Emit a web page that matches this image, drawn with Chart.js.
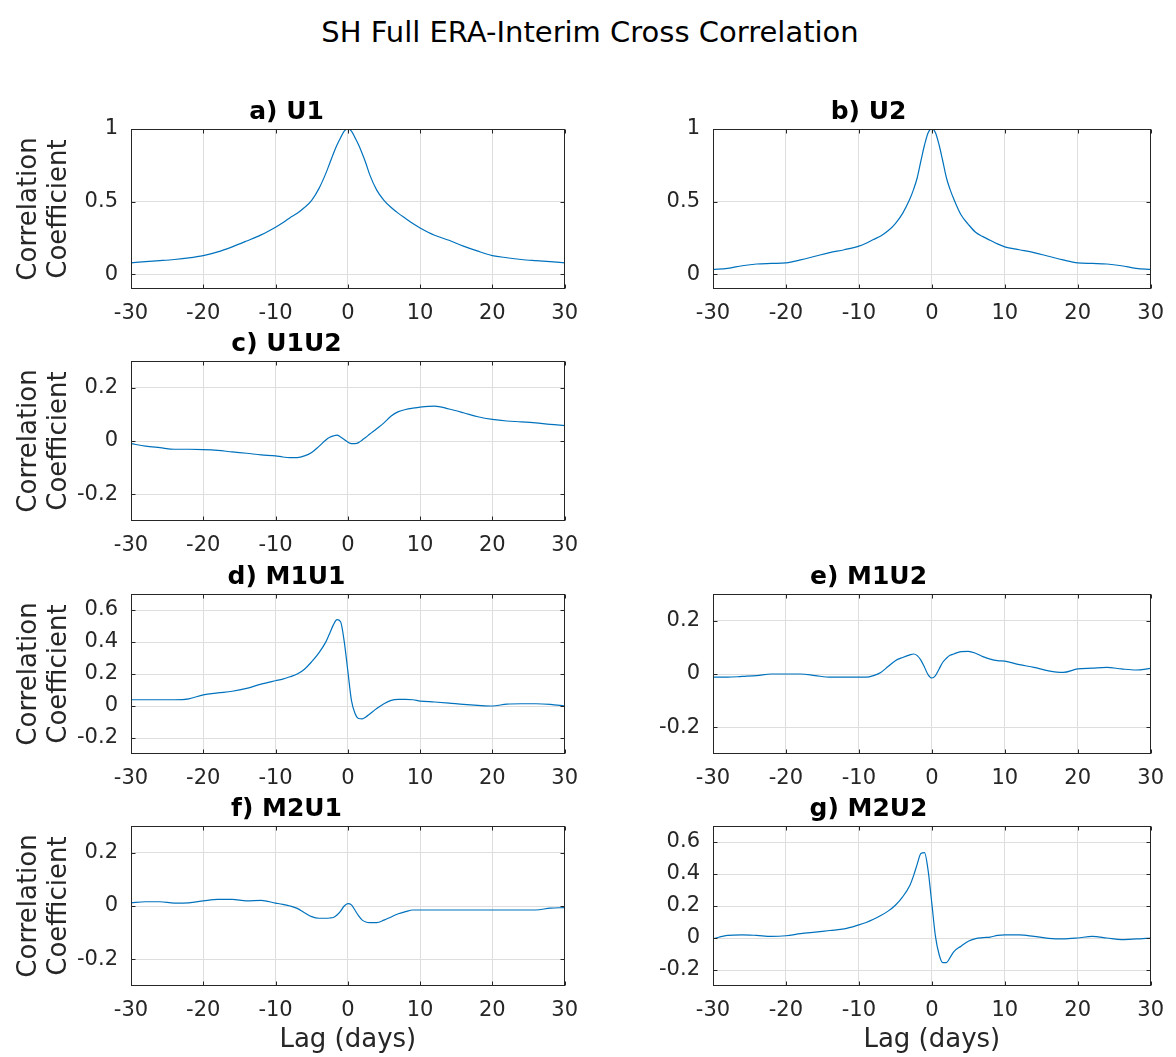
<!DOCTYPE html>
<html>
<head>
<meta charset="utf-8">
<title>SH Full ERA-Interim Cross Correlation</title>
<script src="https://cdn.jsdelivr.net/npm/chart.js@4.4.1/dist/chart.umd.min.js"></script>
<style>
  body { margin: 0; background: #fff; width: 1176px; height: 1057px; position: relative; overflow: hidden; font-family: "DejaVu Sans", sans-serif; }
  #title { position: absolute; left: 0; width: 1180px; top: 15px; text-align: center; font-size: 29px; color: #000; }
  canvas { position: absolute; }
</style>
</head>
<body>
<div id="title">SH Full ERA-Interim Cross Correlation</div>
<canvas id="pa"></canvas>
<canvas id="pb"></canvas>
<canvas id="pc"></canvas>
<canvas id="pd"></canvas>
<canvas id="pe"></canvas>
<canvas id="pf"></canvas>
<canvas id="pg"></canvas>
<script>
// lag in days (denser near zero where the curves change fast)
const lags = [-30, -28, -26, -24, -22, -20, -18, -16, -14, -12, -10, -9, -8, -7, -6, -5, -4, -3,
  -2.5, -2, -1.5, -1, -0.5, 0, 0.5, 1, 1.5, 2, 2.5, 3, 4, 5, 6, 7, 8, 9, 10,
  12, 14, 16, 18, 20, 22, 24, 26, 28, 30];

const u1 = [0.080, 0.088, 0.095, 0.103, 0.114, 0.130, 0.155, 0.190, 0.230, 0.272, 0.325, 0.355, 0.390, 0.420, 0.460, 0.510, 0.590, 0.700,
  0.765, 0.830, 0.890, 0.940, 0.985, 1.000, 0.985, 0.940, 0.890, 0.830, 0.765, 0.690, 0.580, 0.510, 0.460, 0.420, 0.385, 0.350, 0.320,
  0.270, 0.235, 0.195, 0.160, 0.130, 0.115, 0.103, 0.095, 0.088, 0.080];

const u2 = [0.035, 0.042, 0.060, 0.072, 0.076, 0.080, 0.100, 0.125, 0.150, 0.170, 0.195, 0.215, 0.240, 0.265, 0.300, 0.350, 0.420, 0.520,
  0.585, 0.665, 0.780, 0.890, 0.975, 1.000, 0.975, 0.890, 0.780, 0.665, 0.585, 0.520, 0.410, 0.345, 0.290, 0.260, 0.235, 0.210, 0.190,
  0.170, 0.150, 0.125, 0.100, 0.080, 0.076, 0.072, 0.060, 0.042, 0.035];

const u1u2 = [-0.010, -0.019, -0.025, -0.031, -0.031, -0.032, -0.035, -0.041, -0.046, -0.052, -0.056, -0.060, -0.062, -0.062, -0.056, -0.043, -0.020, 0.005,
  0.014, 0.019, 0.022, 0.015, 0.006, -0.004, -0.010, -0.010, -0.006, 0.004, 0.014, 0.025, 0.046, 0.068, 0.094, 0.110, 0.118, 0.123, 0.127,
  0.131, 0.120, 0.106, 0.091, 0.081, 0.075, 0.072, 0.068, 0.062, 0.058];

const m1u1 = [0.039, 0.039, 0.039, 0.039, 0.045, 0.070, 0.082, 0.092, 0.110, 0.137, 0.158, 0.168, 0.183, 0.200, 0.230, 0.277, 0.332, 0.404,
  0.455, 0.507, 0.540, 0.527, 0.404, 0.220, 0.035, -0.047, -0.078, -0.080, -0.068, -0.051, -0.016, 0.014, 0.035, 0.041, 0.041, 0.039, 0.031,
  0.025, 0.018, 0.010, 0.004, 0.000, 0.012, 0.014, 0.014, 0.010, 0.000];

const m1u2 = [-0.012, -0.012, -0.009, -0.006, 0.000, 0.000, 0.000, -0.006, -0.012, -0.012, -0.012, -0.012, -0.006, 0.006, 0.028, 0.050, 0.062, 0.072,
  0.075, 0.069, 0.052, 0.025, -0.003, -0.015, -0.006, 0.019, 0.044, 0.059, 0.070, 0.075, 0.084, 0.085, 0.078, 0.065, 0.056, 0.050, 0.048,
  0.035, 0.025, 0.012, 0.006, 0.019, 0.022, 0.025, 0.019, 0.015, 0.021];

const m2u1 = [0.012, 0.016, 0.016, 0.011, 0.012, 0.019, 0.025, 0.025, 0.019, 0.021, 0.011, 0.006, 0.000, -0.009, -0.025, -0.040, -0.046, -0.046,
  -0.045, -0.043, -0.034, -0.019, 0.000, 0.009, 0.004, -0.016, -0.037, -0.053, -0.060, -0.062, -0.062, -0.053, -0.041, -0.029, -0.021, -0.015, -0.015,
  -0.015, -0.015, -0.015, -0.015, -0.015, -0.015, -0.015, -0.015, -0.008, -0.006];

const m2u2 = [-0.004, 0.016, 0.020, 0.016, 0.010, 0.014, 0.027, 0.037, 0.047, 0.057, 0.082, 0.097, 0.117, 0.140, 0.168, 0.205, 0.257, 0.330,
  0.390, 0.462, 0.528, 0.534, 0.420, 0.216, 0.010, -0.103, -0.154, -0.154, -0.123, -0.086, -0.051, -0.020, -0.004, 0.002, 0.006, 0.016, 0.020,
  0.020, 0.010, -0.002, -0.006, 0.000, 0.010, 0.000, -0.010, -0.006, 0.000];

const xTicks = [-30, -20, -10, 0, 10, 20, 30];
const yTicksAuto = [0, 0.5, 1];
const yTicksCross = [-0.2, 0, 0.2];
const yTicksMode = [-0.2, 0, 0.2, 0.4, 0.6];

const panels = [
  { id: 'pa', title: 'a) U1',   values: u1,   min: -0.1, max: 1,   ticks: yTicksAuto,  col: 0, row: 0, ylab: true,  xlab: false },
  { id: 'pb', title: 'b) U2',   values: u2,   min: -0.1, max: 1,   ticks: yTicksAuto,  col: 1, row: 0, ylab: false, xlab: false },
  { id: 'pc', title: 'c) U1U2', values: u1u2, min: -0.3, max: 0.3, ticks: yTicksCross, col: 0, row: 1, ylab: true,  xlab: false },
  { id: 'pd', title: 'd) M1U1', values: m1u1, min: -0.3, max: 0.7, ticks: yTicksMode,  col: 0, row: 2, ylab: true,  xlab: false },
  { id: 'pe', title: 'e) M1U2', values: m1u2, min: -0.3, max: 0.3, ticks: yTicksCross, col: 1, row: 2, ylab: false, xlab: false },
  { id: 'pf', title: 'f) M2U1', values: m2u1, min: -0.3, max: 0.3, ticks: yTicksCross, col: 0, row: 3, ylab: true,  xlab: true },
  { id: 'pg', title: 'g) M2U2', values: m2u2, min: -0.3, max: 0.7, ticks: yTicksMode,  col: 1, row: 3, ylab: false, xlab: true }
];

// page layout of the subplot grid
const colLeft = [0, 582];
const colWidth = [590, 594];
const areaW = 442, areaH = 160, yAxisW = 131, xAxisH = 75;
const rowTop = [129, 361, 594, 826];

const AXIS_COLOR = '#262626';

// MATLAB style box with inward tick marks
const boxFrame = {
  id: 'boxFrame',
  afterDatasetsDraw(chart) {
    const { ctx, chartArea: a, scales: { x, y } } = chart;
    const l = Math.round(a.left) + 0.5, r = Math.round(a.right) - 0.5;
    const t = Math.round(a.top) + 0.5, b = Math.round(a.bottom) - 0.5;
    ctx.save();
    ctx.strokeStyle = AXIS_COLOR;
    ctx.lineWidth = 1;
    ctx.beginPath();
    x.ticks.forEach(tk => {
      const px = Math.round(x.getPixelForValue(tk.value)) + 0.5;
      ctx.moveTo(px, b); ctx.lineTo(px, b - 4);
      ctx.moveTo(px, t); ctx.lineTo(px, t + 4);
    });
    y.ticks.forEach(tk => {
      const py = Math.round(y.getPixelForValue(tk.value)) + 0.5;
      ctx.moveTo(l, py); ctx.lineTo(l + 4, py);
      ctx.moveTo(r, py); ctx.lineTo(r - 4, py);
    });
    ctx.stroke();
    ctx.strokeRect(l, t, r - l, b - t);
    ctx.restore();
  }
};

panels.forEach(p => {
  const cv = document.getElementById(p.id);
  const top = rowTop[p.row] - 50;
  cv.width = colWidth[p.col];
  cv.height = 50 + areaH + xAxisH;
  cv.style.left = colLeft[p.col] + 'px';
  cv.style.top = top + 'px';

  new Chart(cv, {
    type: 'line',
    data: {
      datasets: [{
        data: lags.map((d, i) => ({ x: d, y: p.values[i] })),
        borderColor: '#0072BD',
        borderWidth: 1.2,
        pointRadius: 0,
        cubicInterpolationMode: 'monotone',
        fill: false
      }]
    },
    options: {
      responsive: false,
      animation: false,
      devicePixelRatio: 1,
      layout: { padding: { top: 18, left: 0, bottom: 0, right: colWidth[p.col] - yAxisW - areaW } },
      plugins: {
        legend: { display: false },
        tooltip: { enabled: false },
        title: {
          display: true,
          text: p.title,
          color: '#000',
          font: { family: 'DejaVu Sans', size: 25, weight: 'bold', lineHeight: 1.2 },
          padding: { top: 0, bottom: 2 }
        }
      },
      scales: {
        x: {
          type: 'linear',
          min: -30,
          max: 30,
          afterBuildTicks: s => { s.ticks = xTicks.map(v => ({ value: v })); },
          afterFit: s => { s.height = xAxisH; },
          grid: { color: '#dedede', lineWidth: 1, drawTicks: false },
          border: { display: false },
          ticks: {
            color: AXIS_COLOR,
            font: { family: 'DejaVu Sans', size: 21 },
            padding: 12,
            maxRotation: 0,
            autoSkip: false,
            callback: v => String(v)
          },
          title: {
            display: p.xlab,
            text: 'Lag (days)',
            color: AXIS_COLOR,
            font: { family: 'DejaVu Sans', size: 26, lineHeight: 1.15 },
            padding: { top: 0, bottom: 6 }
          }
        },
        y: {
          min: p.min,
          max: p.max,
          afterBuildTicks: s => { s.ticks = p.ticks.map(v => ({ value: v })); },
          afterFit: s => { s.width = yAxisW; },
          grid: { color: '#dedede', lineWidth: 1, drawTicks: false },
          border: { display: false },
          ticks: {
            color: AXIS_COLOR,
            font: { family: 'DejaVu Sans', size: 21 },
            padding: 13,
            callback: v => String(v)
          },
          title: {
            display: p.ylab,
            text: ['Correlation', 'Coefficient'],
            color: AXIS_COLOR,
            font: { family: 'DejaVu Sans', size: 26, lineHeight: 1.15 },
            padding: { top: 14, bottom: 0 }
          }
        }
      }
    },
    plugins: [boxFrame]
  });
});
</script>
</body>
</html>
